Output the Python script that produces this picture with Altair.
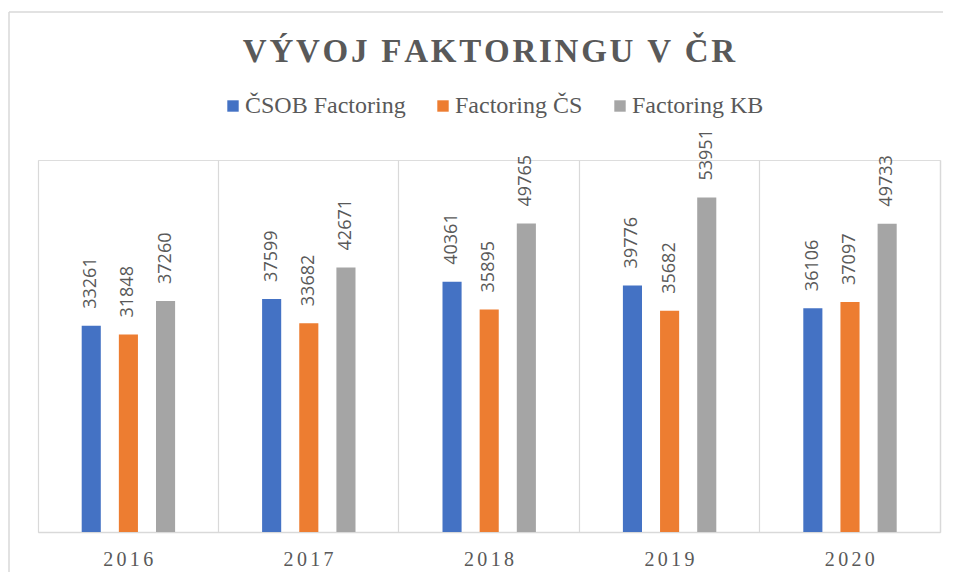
import altair as alt
import pandas as pd

years = ["2016", "2017", "2018", "2019", "2020"]
series = ["ČSOB Factoring", "Factoring ČS", "Factoring KB"]
csob = [33261, 37599, 40361, 39776, 36106]
cs = [31848, 33682, 35895, 35682, 37097]
kb = [37260, 42671, 49765, 53951, 49733]
colors = ["#4472C4", "#ED7D31", "#A5A5A5"]
title_text = "VÝVOJ FAKTORINGU V ČR"

rows = []
for name, vals in zip(series, [csob, cs, kb]):
    for y, v in zip(years, vals):
        rows.append({"year": y, "series": name, "value": v})
df = pd.DataFrame(rows)

GRID = "#d9d9d9"
TXT = "#595959"
SERIF = "Liberation Serif"

x_enc = alt.X(
    "year:N",
    sort=years,
    scale=alt.Scale(paddingInner=0, paddingOuter=0),
    axis=alt.Axis(
        title=None,
        orient="bottom",
        ticks=False,
        domainColor=GRID,
        domainWidth=1.5,
        grid=True,
        gridColor=GRID,
        gridWidth=1.2,
        bandPosition=0,
        labelAngle=0,
        labelFont=SERIF,
        labelFontSize=20,
        labelColor=TXT,
        labelPadding=17,
        labelExpr="join(split(datum.label, ''), '\u2006')",
    ),
)
xo_enc = alt.XOffset(
    "series:N",
    sort=series,
    scale=alt.Scale(paddingInner=0.486, paddingOuter=0, range=[43.7, 137.1]),
)
y_enc = alt.Y(
    "value:Q",
    scale=alt.Scale(domain=[0, 60000], nice=False),
    axis=alt.Axis(
        orient="right",
        title=None,
        labels=False,
        ticks=False,
        grid=False,
        domain=True,
        domainColor=GRID,
        domainWidth=1.5,
    ),
)

bars = alt.Chart(df).mark_bar().encode(
    x=x_enc,
    xOffset=xo_enc,
    y=y_enc,
    color=alt.Color(
        "series:N",
        sort=series,
        scale=alt.Scale(domain=series, range=colors),
        legend=alt.Legend(
            title=None,
            orient="none",
            legendX=183,
            legendY=-66,
            direction="horizontal",
            columns=3,
            columnPadding=25,
            symbolType="square",
            symbolSize=130,
            symbolStrokeWidth=0,
            symbolOpacity=1,
            labelFont=SERIF,
            labelFontSize=24,
            labelColor=TXT,
            labelOffset=0,
            labelLimit=400,
        ),
    ),
)

labels = alt.Chart(df).mark_text(
    angle=270,
    align="left",
    baseline="middle",
    dx=17,
    font="Open Sans",
    fontSize=18,
    color=TXT,
).encode(
    x=x_enc,
    xOffset=xo_enc,
    y=y_enc,
    text=alt.Text("value:Q", format="d"),
)

frame_df = pd.DataFrame({"k": [0]})
frame_left = alt.Chart(frame_df).mark_rule(color=GRID, strokeWidth=1.5).encode(
    x=alt.value(-29), y=alt.value(-148), y2=alt.value(430)
)
frame_top = alt.Chart(frame_df).mark_rule(color=GRID, strokeWidth=1.5).encode(
    x=alt.value(-29), x2=alt.value(960), y=alt.value(-148)
)

chart = (
    alt.layer(frame_left, frame_top, bars, labels)
    .properties(
        width=902,
        height=372,
        autosize=alt.AutoSizeParams(type="none"),
        padding={"left": 30, "top": 152, "right": 3, "bottom": 40},
        title=alt.TitleParams(
            text="\u200a".join(title_text),
            font=SERIF,
            fontSize=33,
            fontWeight="bold",
            color=TXT,
            anchor="middle",
            offset=0,
            dy=58,
        ),
    )
    .configure_view(stroke=None)
    .configure(background="white")
)

chart.save("out.html", embed_options={"renderer": "svg", "actions": False})
